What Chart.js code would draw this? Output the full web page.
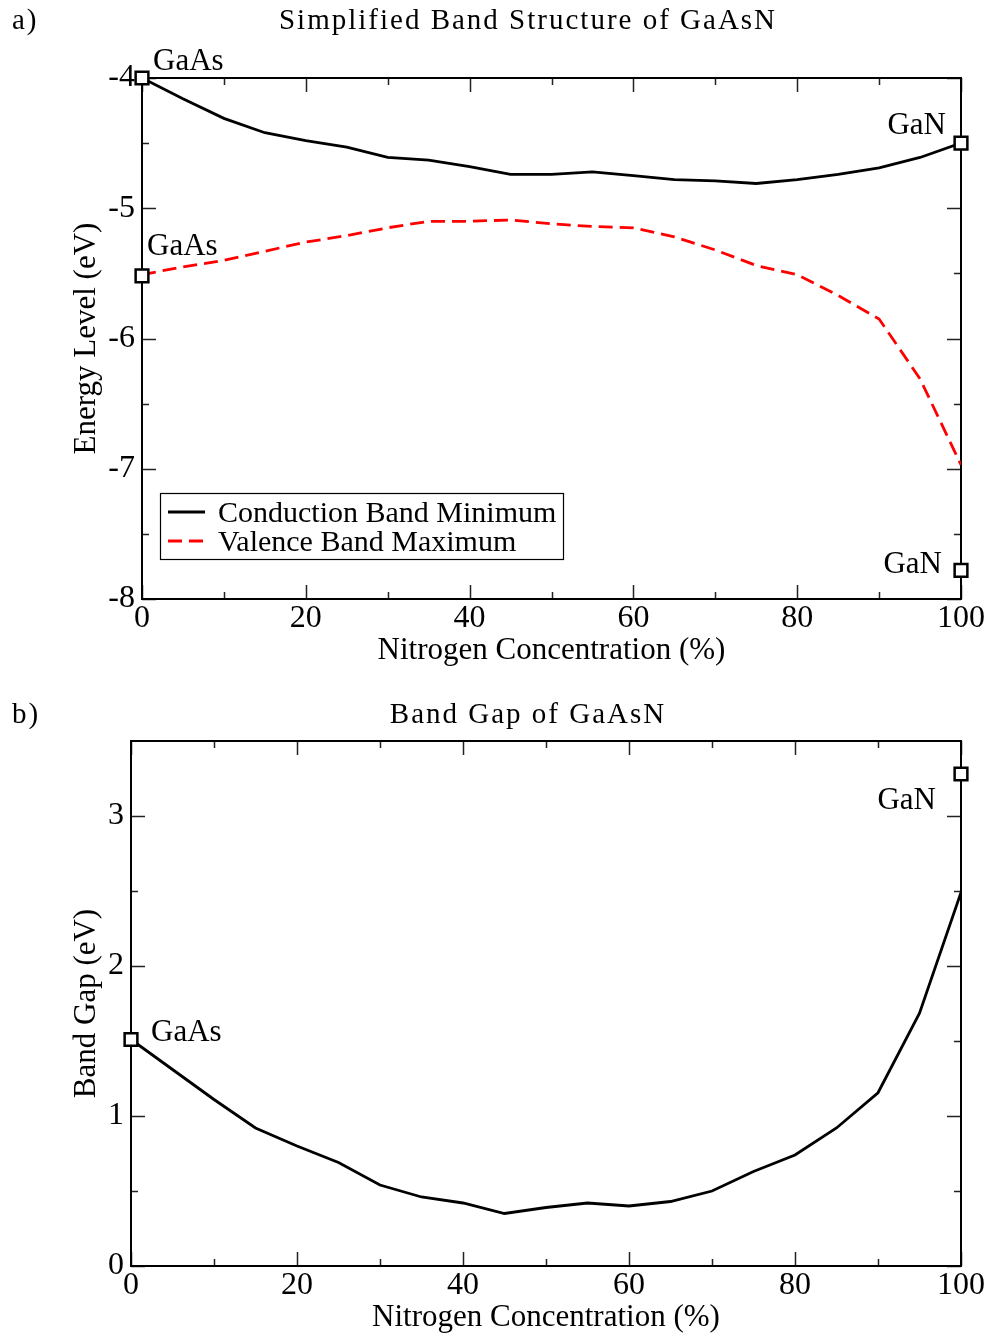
<!DOCTYPE html>
<html>
<head>
<meta charset="utf-8">
<title>GaAsN band structure</title>
<script src="https://cdn.jsdelivr.net/npm/chart.js@4"></script>
<style>
  html, body { margin: 0; padding: 0; background: #fff; }
  #wrap { position: relative; width: 992px; height: 1337px; }
  canvas { position: absolute; left: 0; }
  #bands { top: 0; }
  #gap { top: 670px; }
</style>
</head>
<body>
<div id="wrap">
  <canvas id="bands" width="992" height="670"></canvas>
  <canvas id="gap" width="992" height="667"></canvas>
</div>
<script>
// nitrogen fraction of each supercell (%)
const nitrogenPct = [0, 5, 10, 15, 20, 25, 30, 35, 40, 45, 50, 55, 60, 65, 70, 75, 80, 85, 90, 95, 100];

// band edges (eV)
const cbm = [-4.00, -4.16, -4.31, -4.42, -4.48, -4.53, -4.61, -4.63, -4.68, -4.74, -4.74,
             -4.72, -4.75, -4.78, -4.79, -4.81, -4.78, -4.74, -4.69, -4.61, -4.50];
const vbm = [-5.51, -5.45, -5.40, -5.33, -5.26, -5.21, -5.15, -5.10, -5.10, -5.09, -5.12,
             -5.14, -5.15, -5.22, -5.32, -5.44, -5.51, -5.67, -5.85, -6.31, -6.97];
const bandGap = [1.51, 1.31, 1.11, 0.92, 0.80, 0.69, 0.54, 0.46, 0.42, 0.35, 0.39,
                 0.42, 0.40, 0.43, 0.50, 0.63, 0.74, 0.92, 1.155, 1.685, 2.49];

// experimental values of the binary compounds
const refNames = ['GaAs', 'GaAs', 'GaN', 'GaN'];
const refX = [0, 0, 100, 100];
const refEdges = [-4.00, -5.52, -4.50, -7.78];
const gapRefNames = ['GaAs', 'GaN'];
const gapRefX = [0, 100];
const gapRef = [1.51, 3.28];

// axis ticks
const xMajor = [0, 20, 40, 60, 80, 100];
const xMinor = [10, 30, 50, 70, 90];
const bandMajor = [-8, -7, -6, -5, -4];
const bandMinor = [-7.5, -6.5, -5.5, -4.5];
const gapMajor = [0, 1, 2, 3];
const gapMinor = [0.5, 1.5, 2.5];

const SERIF = '"Liberation Serif", "Times New Roman", serif';

const pts = (xs, ys) => xs.map((x, i) => ({ x: x, y: ys[i] }));

// box around the plot with inward ticks on all four sides
const axisFrame = {
  id: 'axisFrame',
  beforeDatasetsDraw(chart, args, opts) {
    const { ctx, chartArea: a, scales: { x, y } } = chart;
    const marks = (xv, yv, len) => {
      ctx.beginPath();
      for (const v of xv) {
        const px = Math.round(x.getPixelForValue(v)) + 0.5;
        ctx.moveTo(px, a.bottom); ctx.lineTo(px, a.bottom - len);
        ctx.moveTo(px, a.top); ctx.lineTo(px, a.top + len);
      }
      for (const v of yv) {
        const py = Math.round(y.getPixelForValue(v)) + 0.5;
        ctx.moveTo(a.left, py); ctx.lineTo(a.left + len, py);
        ctx.moveTo(a.right, py); ctx.lineTo(a.right - len, py);
      }
      ctx.stroke();
    };
    ctx.save();
    ctx.strokeStyle = '#222';
    ctx.lineWidth = 1.5;
    marks(opts.xMajor, opts.yMajor, 14);
    marks(opts.xMinor, opts.yMinor, 7);
    ctx.strokeStyle = '#000';
    ctx.lineWidth = 2;
    ctx.strokeRect(a.left, a.top, a.right - a.left, a.bottom - a.top);
    ctx.restore();
  }
};

// compound names next to the reference squares
const refLabels = {
  id: 'refLabels',
  afterDatasetsDraw(chart, args, opts) {
    const { ctx } = chart;
    const meta = chart.getDatasetMeta(opts.datasetIndex);
    ctx.save();
    ctx.font = '31px ' + SERIF;
    ctx.fillStyle = '#000';
    ctx.textBaseline = 'alphabetic';
    meta.data.forEach((pt, i) => {
      const o = opts.offsets[i];
      ctx.textAlign = o.align;
      ctx.fillText(opts.names[i], pt.x + o.dx, pt.y + o.dy);
    });
    ctx.restore();
  }
};

// panel letter and heading
const headings = {
  id: 'headings',
  afterDraw(chart, args, opts) {
    const { ctx } = chart;
    ctx.save();
    ctx.font = '29px ' + SERIF;
    ctx.fillStyle = '#000';
    ctx.letterSpacing = '2px';
    ctx.textBaseline = 'alphabetic';
    ctx.textAlign = 'left';
    ctx.fillText(opts.panel, 12, opts.baseline);
    ctx.textAlign = 'center';
    ctx.fillText(opts.text, 528, opts.baseline);
    ctx.restore();
  }
};

// boxed legend in the lower left of the plot
const boxLegend = {
  id: 'boxLegend',
  afterDraw(chart) {
    const { ctx, chartArea: a } = chart;
    const left = a.left + 18, top = a.bottom - 106, w = 403, h = 66;
    ctx.save();
    ctx.fillStyle = '#fff';
    ctx.fillRect(left, top, w, h);
    ctx.strokeStyle = '#000';
    ctx.lineWidth = 1.2;
    ctx.strokeRect(left + 0.5, top + 0.5, w, h);
    chart.data.datasets.filter(ds => ds.label).forEach((ds, i) => {
      const yy = top + 19 + i * 29;
      ctx.strokeStyle = ds.borderColor;
      ctx.lineWidth = ds.borderWidth;
      ctx.setLineDash(ds.borderDash || []);
      ctx.beginPath();
      ctx.moveTo(left + 8, yy);
      ctx.lineTo(left + 45, yy);
      ctx.stroke();
      ctx.setLineDash([]);
      ctx.fillStyle = '#000';
      ctx.font = '30px ' + SERIF;
      ctx.textBaseline = 'middle';
      ctx.textAlign = 'left';
      ctx.fillText(ds.label, left + 58, yy + 2);
    });
    ctx.restore();
  }
};

function markerSet(xs, ys) {
  return {
    data: pts(xs, ys),
    showLine: false,
    pointStyle: 'rect',
    pointRadius: 9,
    pointBorderWidth: 2.5,
    pointBorderColor: '#000',
    pointBackgroundColor: '#fff',
    clip: false,
    order: -1
  };
}

function xScale() {
  return {
    type: 'linear', min: 0, max: 100,
    afterBuildTicks: s => { s.ticks = xMajor.map(v => ({ value: v })); },
    afterFit: s => { s.height = 71; },
    grid: { display: false, drawTicks: false },
    border: { display: false },
    ticks: { color: '#000', padding: 0, font: { family: SERIF, size: 32 } },
    title: {
      display: true, text: 'Nitrogen Concentration (%)', color: '#000',
      font: { family: SERIF, size: 31 }, padding: { top: 0, bottom: 1 }
    }
  };
}

function yScale(min, max, majors, width, label) {
  return {
    min: min, max: max,
    afterBuildTicks: s => { s.ticks = majors.map(v => ({ value: v })); },
    afterFit: s => { s.width = width; },
    grid: { display: false, drawTicks: false },
    border: { display: false },
    ticks: { color: '#000', padding: 7, font: { family: SERIF, size: 32 } },
    title: {
      display: true, text: label, color: '#000',
      font: { family: SERIF, size: 31 }, padding: { top: 68, bottom: 0 }
    }
  };
}

new Chart(document.getElementById('bands'), {
  type: 'line',
  data: {
    datasets: [
      {
        label: 'Conduction Band Minimum',
        data: pts(nitrogenPct, cbm),
        borderColor: '#000', borderWidth: 2.8, pointRadius: 0
      },
      {
        label: 'Valence Band Maximum',
        data: pts(nitrogenPct, vbm),
        borderColor: '#ff0000', borderWidth: 2.8, borderDash: [14, 7], pointRadius: 0
      },
      markerSet(refX, refEdges)
    ]
  },
  options: {
    responsive: false,
    animation: false,
    devicePixelRatio: 1,
    layout: { padding: { top: 78, right: 31, left: 0, bottom: 0 } },
    scales: {
      x: xScale(),
      y: yScale(-8, -4, bandMajor, 142, 'Energy Level (eV)')
    },
    plugins: {
      legend: { display: false },
      tooltip: { enabled: false },
      axisFrame: { xMajor: xMajor, xMinor: xMinor, yMajor: bandMajor, yMinor: bandMinor },
      refLabels: {
        datasetIndex: 2, names: refNames,
        offsets: [
          { dx: 11, dy: -8, align: 'left' },
          { dx: 5, dy: -21, align: 'left' },
          { dx: -15, dy: -9, align: 'right' },
          { dx: -19, dy: 3, align: 'right' }
        ]
      },
      headings: { panel: 'a)', text: 'Simplified Band Structure of GaAsN', baseline: 29 }
    }
  },
  plugins: [axisFrame, refLabels, headings, boxLegend]
});

new Chart(document.getElementById('gap'), {
  type: 'line',
  data: {
    datasets: [
      {
        data: pts(nitrogenPct, bandGap),
        borderColor: '#000', borderWidth: 2.8, pointRadius: 0
      },
      markerSet(gapRefX, gapRef)
    ]
  },
  options: {
    responsive: false,
    animation: false,
    devicePixelRatio: 1,
    layout: { padding: { top: 71, right: 31, left: 0, bottom: 0 } },
    scales: {
      x: xScale(),
      y: yScale(0, 3.5, gapMajor, 131, 'Band Gap (eV)')
    },
    plugins: {
      legend: { display: false },
      tooltip: { enabled: false },
      axisFrame: { xMajor: xMajor, xMinor: xMinor, yMajor: gapMajor, yMinor: gapMinor },
      refLabels: {
        datasetIndex: 1, names: gapRefNames,
        offsets: [
          { dx: 20, dy: 1, align: 'left' },
          { dx: -25, dy: 35, align: 'right' }
        ]
      },
      headings: { panel: 'b)', text: 'Band Gap of GaAsN', baseline: 53 }
    }
  },
  plugins: [axisFrame, refLabels, headings]
});
</script>
</body>
</html>
